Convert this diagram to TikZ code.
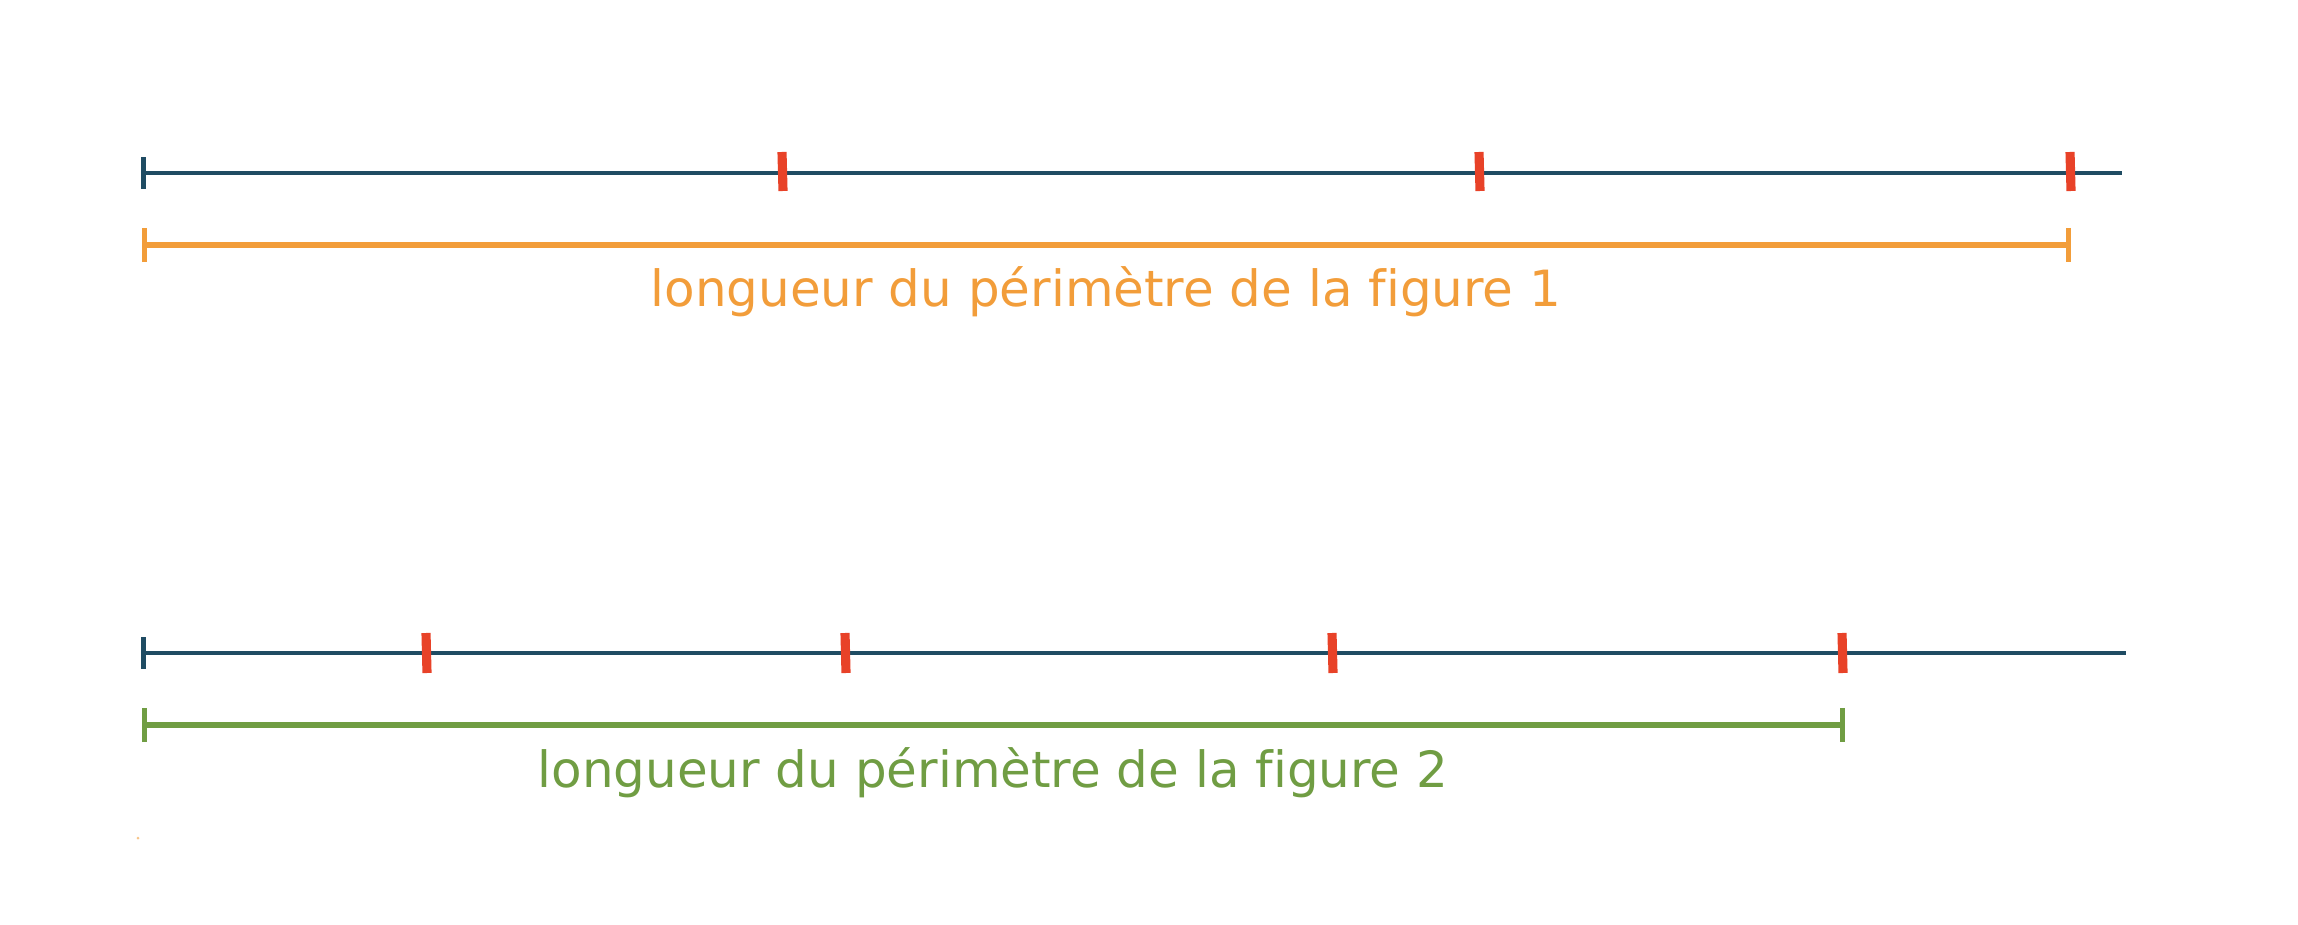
\documentclass[tikz,border=0pt]{standalone}
\usepackage{fontspec}
\setmainfont[Ligatures=NoCommon]{DejaVu Sans}
\usetikzlibrary{arrows.meta}
\definecolor{bleu}{RGB}{31,76,99}
\definecolor{orangef}{RGB}{242,157,58}
\definecolor{vertf}{RGB}{112,157,67}
\definecolor{rouge}{RGB}{232,66,40}

\begin{document}
\begin{tikzpicture}[x=0.01cm, y=-0.01cm,
    axe/.style={draw=bleu, line width=1.35pt, {Bar[width=0.31cm]}-},
    mesure/.style={line width=1.55pt, {Bar[width=0.34cm]}-{Bar[width=0.34cm]}},
    trait/.style={draw=rouge, line width=2.6pt},
    legende/.style={font=\fontsize{14.2}{17}\selectfont, anchor=base, inner sep=0pt}]
      \useasboundingbox (0,0) rectangle (2298,925);
      % figure 1
      \coordinate (a0) at (141,173);
      \coordinate (a4) at (2122,173);
      \coordinate (o0) at (142,245);
      \coordinate (o1) at (2071,245);
      \draw[axe] (a0) -- (a4);
      \foreach \x in {782, 1479, 2070}
        \draw[trait] (\x,152) -- (\x+1,191);
      \draw[mesure, draw=orangef] (o0) -- (o1);
      \node[legende, text=orangef] (lg1) at (1106,307) {longueur du périmètre de la figure 1};
      % figure 2
      \coordinate (b0) at (141,653);
      \coordinate (b5) at (2126,653);
      \coordinate (v0) at (142,725);
      \coordinate (v1) at (1845,725);
      \draw[axe] (b0) -- (b5);
      \foreach \x in {426, 845, 1332, 1842}
        \draw[trait] (\x,633) -- (\x+1,673);
      \draw[mesure, draw=vertf] (v0) -- (v1);
      \node[legende, text=vertf] (lg2) at (993,787) {longueur du périmètre de la figure 2};
      \fill[orangef!60] (138,838) circle (1.5);
\end{tikzpicture}
\end{document}
